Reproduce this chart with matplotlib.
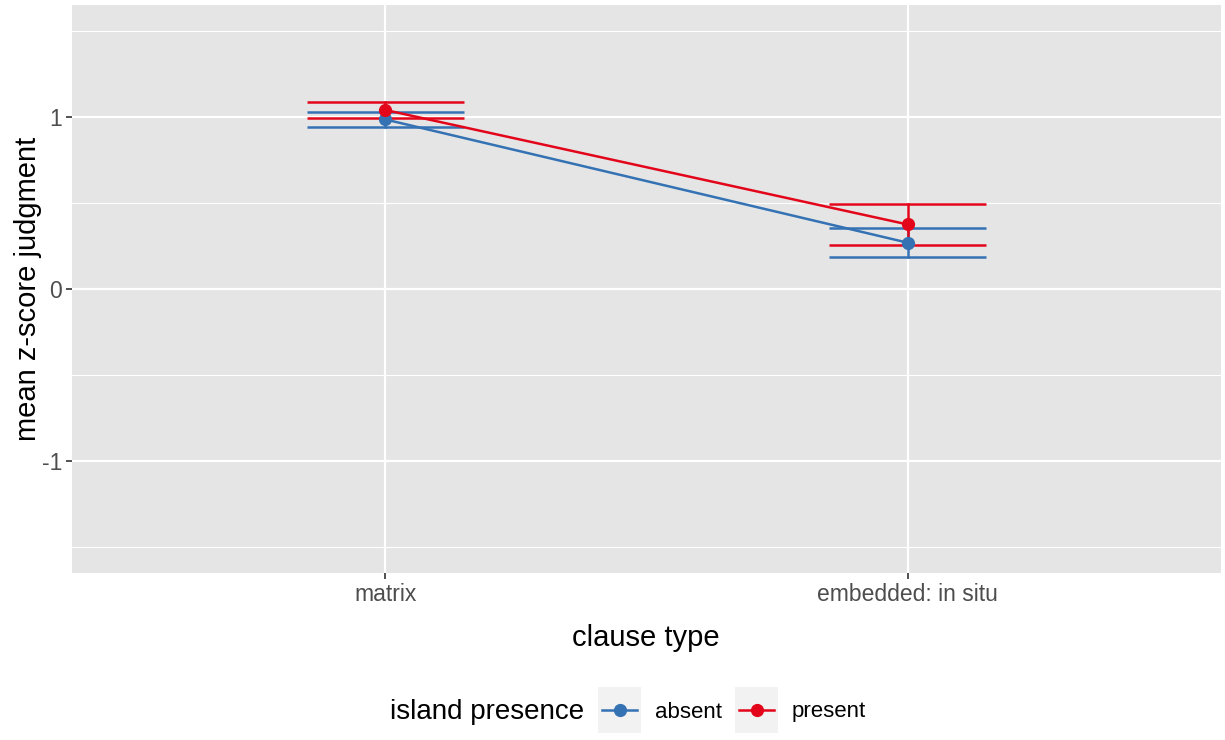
import matplotlib
matplotlib.use("Agg")
import matplotlib.pyplot as plt

plt.rcParams['font.family'] = ['Liberation Sans', 'DejaVu Sans']

categories = ["matrix", "embedded: in situ"]
groups = ["absent", "present"]
colors = {"absent": "#3472B4", "present": "#E3061B"}
means = {"absent": [0.985, 0.269], "present": [1.040, 0.375]}
upper = {"absent": [1.028, 0.352], "present": [1.086, 0.494]}
lower = {"absent": [0.941, 0.187], "present": [0.995, 0.255]}
yticks = [-1, 0, 1]
yminor = [-1.5, -0.5, 0.5, 1.5]

W, H = 1225, 740
fig = plt.figure(figsize=(W/100, H/100), dpi=100)
ax = fig.add_axes([72/W, 1-573/H, (1221-72)/W, (573-5)/H])
ax.set_facecolor("#E5E5E5")
for s in ax.spines.values():
    s.set_visible(False)

xs = list(range(1, len(categories)+1))
ax.set_xlim(0.4, len(categories)+0.6)
ax.set_ylim(-1.65, 1.65)

for y in yminor:
    ax.axhline(y, color="white", lw=0.8, zorder=0)
for y in yticks:
    ax.axhline(y, color="white", lw=1.6, zorder=0)
for x in xs:
    ax.axvline(x, color="white", lw=1.6, zorder=0)

hw = 0.15
for g in groups:
    c = colors[g]
    for i, x in enumerate(xs):
        ax.plot([x, x], [lower[g][i], upper[g][i]], color=c, lw=1.8, zorder=2)
        ax.plot([x-hw, x+hw], [upper[g][i]]*2, color=c, lw=1.8, zorder=2, solid_capstyle='butt')
        ax.plot([x-hw, x+hw], [lower[g][i]]*2, color=c, lw=1.8, zorder=2, solid_capstyle='butt')
    ax.plot(xs, means[g], color=c, lw=1.8, marker='o', markersize=8.5, zorder=3)

ax.set_xticks(xs)
ax.set_xticklabels(categories, fontsize=16.5, color="#4D4D4D")
ax.set_yticks(yticks)
ax.set_yticklabels([str(t) for t in yticks], fontsize=16.5, color="#4D4D4D")
ax.tick_params(axis='both', length=4, width=1.2, color="#333333", pad=3)
ax.set_xlabel("clause type", fontsize=21)
ax.set_ylabel("mean z-score judgment", fontsize=21)
ax.xaxis.set_label_coords(((572+720)/2 - 72)/(1221-72), -(638-573)/(573-5))
ax.xaxis.label.set_verticalalignment('center')
ax.yaxis.set_label_coords(-(72-28)/(1221-72), (573-289)/(573-5))
ax.yaxis.label.set_verticalalignment('center')

# legend
fig.text(390/W, 1-712/H, "island presence", fontsize=20, va='center', ha='left')
keys = [(598, 655), (735, 792)]
for (kx, lx), g in zip(keys, groups):
    kax = fig.add_axes([kx/W, 1-733/H, 43/W, 46/H])
    kax.set_facecolor("#F2F2F2")
    for s in kax.spines.values():
        s.set_visible(False)
    kax.set_xticks([]); kax.set_yticks([])
    kax.set_xlim(0, 1); kax.set_ylim(0, 1)
    kax.plot([0.1, 0.9], [0.5, 0.5], color=colors[g], lw=1.8)
    kax.plot([0.5], [0.5], color=colors[g], marker='o', markersize=8.5)
    fig.text(lx/W, 1-712/H, g, fontsize=16, va='center', ha='left')

fig.savefig("out.png", dpi=100)
